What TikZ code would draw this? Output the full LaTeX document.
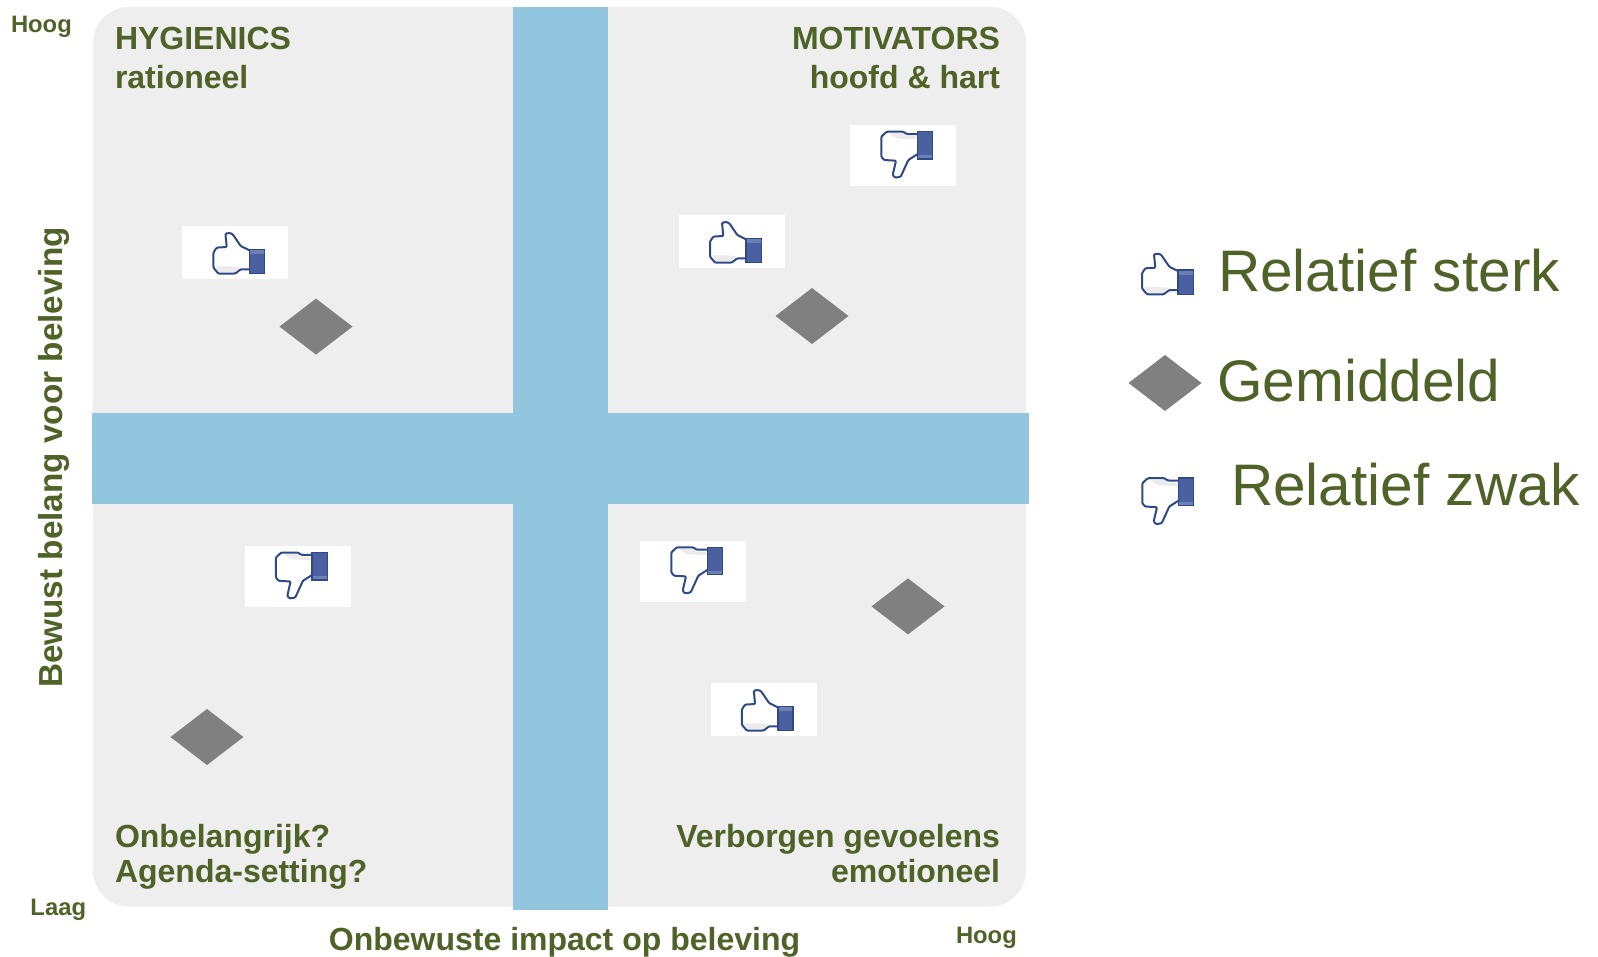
\documentclass[tikz,border=0pt]{standalone}
\usepackage{fontspec}
\setmainfont{Liberation Sans}
\definecolor{olivetxt}{HTML}{4F6228}
\definecolor{panel}{HTML}{EEEEEE}
\definecolor{barblue}{HTML}{92C5DE}
\definecolor{cuff}{HTML}{4A60A0}
\definecolor{cuffline}{HTML}{2E4A86}
\definecolor{diagrey}{HTML}{808080}
\tikzset{
  x=1pt,y=-1pt,
  lab/.style={inner sep=0pt,outer sep=0pt,text=olivetxt,font=\bfseries\fontsize{32}{32}\selectfont},
  axislab/.style={inner sep=0pt,outer sep=0pt,text=olivetxt,font=\bfseries\fontsize{33.3}{34}\selectfont},
  small/.style={inner sep=0pt,outer sep=0pt,text=olivetxt,font=\bfseries\fontsize{23.8}{24}\selectfont},
  legendlab/.style={inner sep=0pt,outer sep=0pt,text=olivetxt,font=\fontsize{58.6}{59}\selectfont,anchor=base west},
  whitebox/.style={fill=white,draw=none,inner sep=0pt,minimum width=106pt},
  dia/.pic={\fill[diagrey] (-36.5,0) -- (0,-28) -- (36.5,0) -- (0,28) -- cycle;},
  thumbup/.pic={
    \fill[black!8] (-20,14) -- (-16,20) -- (-1,20) -- (4,15) -- (-5,14) -- cycle;
    \draw[draw=cuffline,line width=2pt,line join=round,rounded corners=1pt]
      (14,-2) -- (5.3,-6.3) -- (-2.7,-18) -- (-5.3,-19.3) -- (-10,-18.7) -- (-8.7,-5.3) -- (-18.7,-4.7)
      -- (-22,0.3) -- (-22,15.3) -- (-17,21.3) -- (-0.3,21.3) -- (5.3,17) -- (14,17);
    \filldraw[draw=cuffline,fill=cuff,line width=1.5pt] (14,-3) rectangle (29.3,21.3);
    \fill[white,opacity=.2] (15,-2) rectangle (28.6,1.5);
  },
  thumbdown/.pic={
    \fill[black!8] (-14,-22.3) -- (0,-22.3) -- (4,-19.5) -- (13,-19.5) -- (13,-16) -- (-6,-17) -- cycle;
    \draw[draw=cuffline,line width=2pt,line join=round,rounded corners=1pt]
      (14.3,-21.5) -- (3.7,-21.5) -- (0.3,-23.8) -- (-16.3,-23.8) -- (-21.7,-18.8) -- (-21.7,1.2) -- (-19,4.5)
      -- (-7,5.2) -- (-10.3,19.5) -- (-8,22.2) -- (-2.3,21.2) -- (5.3,4.5) -- (14.3,-1.2);
    \filldraw[draw=cuffline,fill=cuff,line width=1.5pt] (14.3,-23.8) rectangle (29.7,3.5);
    \fill[white,opacity=.2] (15,-0.5) rectangle (29,2.8);
  }
}
\begin{document}
\begin{tikzpicture}
\useasboundingbox (0,0) rectangle (1598,956);
% panel and cross
\fill[panel,rounded corners=36pt] (93,7) rectangle (1026,906.5);
\fill[barblue] (513,7) rectangle (608,910);
\fill[barblue] (92,413) rectangle (1029,504);
% white boxes behind thumbs
\node[whitebox,minimum height=53pt] (boxA) at (235.4,252.3) {};
\node[whitebox,minimum height=53pt] (boxB) at (732,241.3) {};
\node[whitebox,minimum height=61pt] (boxC) at (903,155.5) {};
\node[whitebox,minimum height=61pt] (boxD) at (297.6,576.3) {};
\node[whitebox,minimum height=61pt] (boxE) at (693,571.2) {};
\node[whitebox,minimum height=53pt] (boxF) at (763.8,709.3) {};
\pic at (boxA.center) {thumbup};
\pic at (boxB.center) {thumbup};
\pic at (boxC.center) {thumbdown};
\pic at (boxD.center) {thumbdown};
\pic at (boxE.center) {thumbdown};
\pic at (boxF.center) {thumbup};
% diamonds
\pic at (316,326.6) {dia};
\pic at (812,316) {dia};
\pic at (207,737) {dia};
\pic at (908,606.4) {dia};
% quadrant labels
\node[lab,anchor=base west] (hy) at (115,49) {HYGIENICS};
\node[lab,anchor=base west] (ra) at (115,88) {rationeel};
\node[lab,anchor=base east] (mo) at (1000,49) {MOTIVATORS};
\node[lab,anchor=base east] (ho) at (1000,88) {hoofd \& hart};
\node[lab,anchor=base west] (on) at (115,847) {Onbelangrijk?};
\node[lab,anchor=base west] (ag) at (115,882) {Agenda-setting?};
\node[lab,anchor=base east] (ve) at (1000,847) {Verborgen gevoelens};
\node[lab,anchor=base east] (em) at (1000,882) {emotioneel};
% axes
\node[small,anchor=base west] (h1) at (11,32) {Hoog};
\node[small,anchor=base west] (la) at (30.5,915) {Laag};
\node[small,anchor=base west] (h2) at (956,943) {Hoog};
\node[lab,anchor=base] (xa) at (564.5,950.5) {Onbewuste impact op beleving};
\node[axislab,anchor=base,rotate=90] (ya) at (62,457.5) {Bewust belang voor beleving};
% legend
\pic at (1164,273) {thumbup};
\pic at (1165,383) {dia};
\pic at (1164,502) {thumbdown};
\node[legendlab] (l1) at (1218,291) {Relatief sterk};
\node[legendlab] (l2) at (1217,401) {Gemiddeld};
\node[legendlab] (l3) at (1231,505) {Relatief zwak};
\end{tikzpicture}
\end{document}
